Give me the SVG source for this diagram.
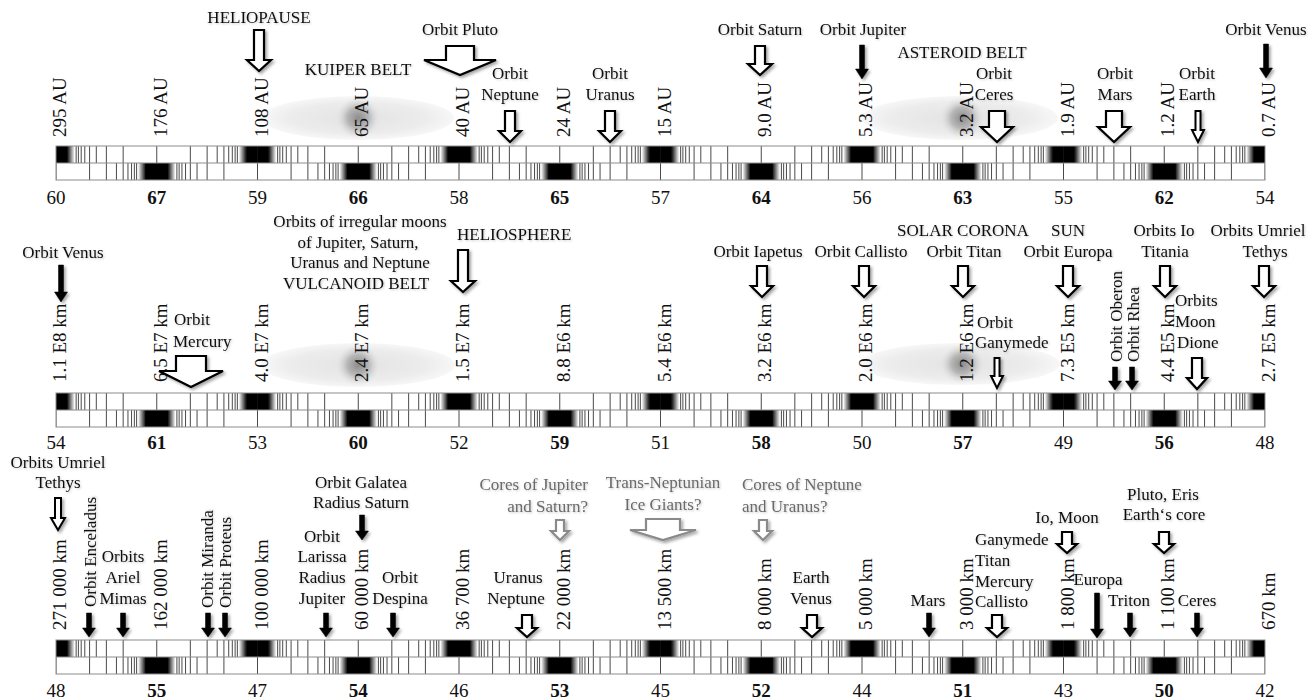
<svg xmlns="http://www.w3.org/2000/svg" xmlns:xlink="http://www.w3.org/1999/xlink" width="1309" height="700" viewBox="0 0 1309 700">
<style>
  text { font-family: "Liberation Serif", "Times New Roman", serif; fill: #111; }
  .num { font-size: 19px; text-anchor: middle; }
  .b { font-weight: bold; }
  .rot { font-size: 19px; }
  .lab { font-size: 17px; text-anchor: middle; filter: url(#tsh); }
  .st { text-anchor: start; }
  .en { text-anchor: end; }
  .gray { fill: #6a6a6a; }
  .ar { fill: #fff; stroke: #000; stroke-width: 2.2; stroke-linejoin: miter; filter: url(#sh); }
  .ar2 { fill: #fff; stroke: #000; stroke-width: 2; filter: url(#sh); }
  .arb { fill: #000; stroke: #000; stroke-width: 0.5; filter: url(#sh); }
  .arg { fill: #fff; stroke: #8a8a8a; stroke-width: 2.2; filter: url(#sh); }
  .tk { stroke: #4a4a4a; stroke-width: 1; fill: none; }
  .frame { fill: none; stroke: #8c8c8c; stroke-width: 1; }
</style>
<defs>
  <filter id="sh" x="-50%" y="-50%" width="200%" height="200%">
    <feDropShadow dx="2" dy="2" stdDeviation="1.6" flood-color="#000" flood-opacity="0.35"/>
  </filter>
  <filter id="tsh" x="-10%" y="-30%" width="120%" height="160%">
    <feDropShadow dx="1" dy="1" stdDeviation="1" flood-color="#000" flood-opacity="0.22"/>
  </filter>
  <linearGradient id="gR" x1="0" y1="0" x2="1" y2="0">
    <stop offset="0" stop-color="#000" stop-opacity="0"/>
    <stop offset="1" stop-color="#000" stop-opacity="1"/>
  </linearGradient>
  <linearGradient id="gL" x1="0" y1="0" x2="1" y2="0">
    <stop offset="0" stop-color="#000" stop-opacity="1"/>
    <stop offset="1" stop-color="#000" stop-opacity="0"/>
  </linearGradient>
  <radialGradient id="belt" cx="0.5" cy="0.5" r="0.5">
    <stop offset="0" stop-color="#e3e3e3"/>
    <stop offset="0.7" stop-color="#ececec"/>
    <stop offset="1" stop-color="#f7f7f7"/>
  </radialGradient>
  <radialGradient id="core" cx="0.5" cy="0.5" r="0.5">
    <stop offset="0" stop-color="#8c8c8c"/>
    <stop offset="0.5" stop-color="#b8b8b8"/>
    <stop offset="1" stop-color="#e3e3e3" stop-opacity="0"/>
  </radialGradient>
  <clipPath id="clipS" clipPathUnits="userSpaceOnUse">
    <rect x="56" y="-5" width="1209" height="50"/>
  </clipPath>
  <g id="cell">
    <path class="tk" d="M0 0V17 M33.58 0V17 M-33.58 0V17 M50.38 0V17 M-50.38 0V17 M60.45 0V17 M-60.45 0V17 M67.17 0V17 M-67.17 0V17 M71.96 0V17 M-71.96 0V17 M75.56 0V17 M-75.56 0V17 M78.36 0V17 M-78.36 0V17 M80.6 0V17 M-80.6 0V17"/>
    <rect x="82" y="0" width="8" height="17" fill="url(#gR)"/>
    <rect x="-90" y="0" width="8" height="17" fill="url(#gL)"/>
    <rect x="89.5" y="0" width="11.5" height="17" fill="#000"/>
    <rect x="-101" y="0" width="11.5" height="17" fill="#000"/>
  </g>
  <g id="strip">
    <g clip-path="url(#clipS)">
      <use xlink:href="#cell" x="156.75"/>
      <use xlink:href="#cell" x="358.25"/>
      <use xlink:href="#cell" x="559.75"/>
      <use xlink:href="#cell" x="761.25"/>
      <use xlink:href="#cell" x="962.75"/>
      <use xlink:href="#cell" x="1164.25"/>
      <use xlink:href="#cell" x="56" y="17"/>
      <use xlink:href="#cell" x="257.5" y="17"/>
      <use xlink:href="#cell" x="459" y="17"/>
      <use xlink:href="#cell" x="660.5" y="17"/>
      <use xlink:href="#cell" x="862" y="17"/>
      <use xlink:href="#cell" x="1063.5" y="17"/>
      <use xlink:href="#cell" x="1265" y="17"/>
    </g>
    <rect class="frame" x="56" y="0" width="1209" height="34"/>
    <line class="frame" x1="56" y1="17" x2="1265" y2="17"/>
  </g>
</defs>

<!-- belts -->
<g id="belts">
  <ellipse cx="358" cy="118" rx="96" ry="22" fill="url(#belt)"/>
  <ellipse cx="358" cy="118" rx="22" ry="21" fill="url(#core)"/>
  <ellipse cx="960" cy="118" rx="98" ry="22" fill="url(#belt)"/>
  <ellipse cx="962" cy="118" rx="22" ry="21" fill="url(#core)"/>
  <ellipse cx="358" cy="365" rx="97" ry="22" fill="url(#belt)"/>
  <ellipse cx="358" cy="365" rx="22" ry="21" fill="url(#core)"/>
  <ellipse cx="960" cy="364" rx="100" ry="21" fill="url(#belt)"/>
  <ellipse cx="962" cy="364" rx="22" ry="20" fill="url(#core)"/>
</g>

<!-- scale strips -->
<g id="strip1"><use xlink:href="#strip" y="146"/></g>
<g id="strip2"><use xlink:href="#strip" y="393"/></g>
<g id="strip3"><use xlink:href="#strip" y="640"/></g>

<!-- scale numbers -->
<g id="nums1">
  <text class="num" x="56" y="204">60</text><text class="num b" x="156.75" y="204">67</text><text class="num" x="257.5" y="204">59</text><text class="num b" x="358.25" y="204">66</text><text class="num" x="459" y="204">58</text><text class="num b" x="559.75" y="204">65</text><text class="num" x="660.5" y="204">57</text><text class="num b" x="761.25" y="204">64</text><text class="num" x="862" y="204">56</text><text class="num b" x="962.75" y="204">63</text><text class="num" x="1063.5" y="204">55</text><text class="num b" x="1164.25" y="204">62</text><text class="num" x="1265" y="204">54</text>
</g>
<g id="nums2">
  <text class="num" x="56" y="449">54</text><text class="num b" x="156.75" y="449">61</text><text class="num" x="257.5" y="449">53</text><text class="num b" x="358.25" y="449">60</text><text class="num" x="459" y="449">52</text><text class="num b" x="559.75" y="449">59</text><text class="num" x="660.5" y="449">51</text><text class="num b" x="761.25" y="449">58</text><text class="num" x="862" y="449">50</text><text class="num b" x="962.75" y="449">57</text><text class="num" x="1063.5" y="449">49</text><text class="num b" x="1164.25" y="449">56</text><text class="num" x="1265" y="449">48</text>
</g>
<g id="nums3">
  <text class="num" x="56" y="697">48</text><text class="num b" x="156.75" y="697">55</text><text class="num" x="257.5" y="697">47</text><text class="num b" x="358.25" y="697">54</text><text class="num" x="459" y="697">46</text><text class="num b" x="559.75" y="697">53</text><text class="num" x="660.5" y="697">45</text><text class="num b" x="761.25" y="697">52</text><text class="num" x="862" y="697">44</text><text class="num b" x="962.75" y="697">51</text><text class="num" x="1063.5" y="697">43</text><text class="num b" x="1164.25" y="697">50</text><text class="num" x="1265" y="697">42</text>
</g>

<!-- rotated distance labels -->
<g id="dist1">
  <text class="rot" transform="translate(66,137) rotate(-90)">295 AU</text>
  <text class="rot" transform="translate(166.75,137) rotate(-90)">176 AU</text>
  <text class="rot" transform="translate(267.5,137) rotate(-90)">108 AU</text>
  <text class="rot" transform="translate(368.25,137) rotate(-90)">65 AU</text>
  <text class="rot" transform="translate(469,137) rotate(-90)">40 AU</text>
  <text class="rot" transform="translate(569.75,137) rotate(-90)">24 AU</text>
  <text class="rot" transform="translate(670.5,137) rotate(-90)">15 AU</text>
  <text class="rot" transform="translate(771.25,137) rotate(-90)">9.0 AU</text>
  <text class="rot" transform="translate(872,137) rotate(-90)">5.3 AU</text>
  <text class="rot" transform="translate(972.75,137) rotate(-90)">3.2 AU</text>
  <text class="rot" transform="translate(1073.5,137) rotate(-90)">1.9 AU</text>
  <text class="rot" transform="translate(1174.25,137) rotate(-90)">1.2 AU</text>
  <text class="rot" transform="translate(1275,137) rotate(-90)">0.7 AU</text>
</g>
<g id="dist2">
  <text class="rot" transform="translate(66,382) rotate(-90)">1.1 E8 km</text>
  <text class="rot" transform="translate(166.75,382) rotate(-90)">6.5 E7 km</text>
  <text class="rot" transform="translate(267.5,382) rotate(-90)">4.0 E7 km</text>
  <text class="rot" transform="translate(368.25,382) rotate(-90)">2.4 E7 km</text>
  <text class="rot" transform="translate(469,382) rotate(-90)">1.5 E7 km</text>
  <text class="rot" transform="translate(569.75,382) rotate(-90)">8.8 E6 km</text>
  <text class="rot" transform="translate(670.5,382) rotate(-90)">5.4 E6 km</text>
  <text class="rot" transform="translate(771.25,382) rotate(-90)">3.2 E6 km</text>
  <text class="rot" transform="translate(872,382) rotate(-90)">2.0 E6 km</text>
  <text class="rot" transform="translate(972.75,382) rotate(-90)">1.2 E6 km</text>
  <text class="rot" transform="translate(1073.5,382) rotate(-90)">7.3 E5 km</text>
  <text class="rot" transform="translate(1174.25,382) rotate(-90)">4.4 E5 km</text>
  <text class="rot" transform="translate(1275,382) rotate(-90)">2.7 E5 km</text>
</g>
<g id="dist3">
  <text class="rot" transform="translate(66,630) rotate(-90)">271 000 km</text>
  <text class="rot" transform="translate(166.75,630) rotate(-90)">162 000 km</text>
  <text class="rot" transform="translate(267.5,630) rotate(-90)">100 000 km</text>
  <text class="rot" transform="translate(368.25,630) rotate(-90)">60 000 km</text>
  <text class="rot" transform="translate(469,630) rotate(-90)">36 700 km</text>
  <text class="rot" transform="translate(569.75,630) rotate(-90)">22 000 km</text>
  <text class="rot" transform="translate(670.5,630) rotate(-90)">13 500 km</text>
  <text class="rot" transform="translate(771.25,630) rotate(-90)">8 000 km</text>
  <text class="rot" transform="translate(872,630) rotate(-90)">5 000 km</text>
  <text class="rot" transform="translate(972.75,630) rotate(-90)">3 000 km</text>
  <text class="rot" transform="translate(1073.5,630) rotate(-90)">1 800 km</text>
  <text class="rot" transform="translate(1174.25,630) rotate(-90)">1 100 km</text>
  <text class="rot" transform="translate(1275,630) rotate(-90)">670 km</text>
</g>

<!-- connectors (arrows) -->
<g id="arrows">
  <path class="ar" d="M254 30 H264 V60 H271 L259 71 L247 60 H254 Z"/>
  <path class="ar" d="M446 46 H474 V60 H496 L460 75 L424 60 H446 Z"/>
  <path class="ar" d="M505 111 H515 V131 H521 L510 142 L499 131 H505 Z"/>
  <path class="ar" d="M605 111 H615 V131 H621 L610 142 L599 131 H605 Z"/>
  <path class="ar" d="M755 46 H765 V64 H772 L760 75 L748 64 H755 Z"/>
  <path class="arb" d="M859.5 45 H864.5 V69 H868.5 L862 79 L855.5 69 H859.5 Z"/>
  <path class="ar" d="M989 111 H1005 V127 H1013 L997 142 L981 127 H989 Z"/>
  <path class="ar" d="M1106 111 H1122 V127 H1130 L1114 142 L1098 127 H1106 Z"/>
  <path class="ar2" d="M1195.5 111 H1200.5 V130 H1204 L1198 142 L1192 130 H1195.5 Z"/>
  <path class="arb" d="M1263.5 44 H1268.5 V68 H1272.5 L1266 78 L1259.5 68 H1263.5 Z"/>

  <path class="arb" d="M58.5 265 H63.5 V292 H67.5 L61 302 L54.5 292 H58.5 Z"/>
  <path class="ar" d="M176 356 H206 V371 H223 L191 387 L159 371 H176 Z"/>
  <path class="ar" d="M458 250 H468 V281 H475 L463 292 L451 281 H458 Z"/>
  <path class="ar" d="M757 266 H767 V286 H773 L762 297 L751 286 H757 Z"/>
  <path class="ar" d="M859 266 H869 V286 H875 L864 297 L853 286 H859 Z"/>
  <path class="ar" d="M958 266 H968 V286 H974 L963 297 L952 286 H958 Z"/>
  <path class="ar" d="M1063 266 H1073 V286 H1079 L1068 297 L1057 286 H1063 Z"/>
  <path class="ar" d="M1160 266 H1170 V286 H1176 L1165 297 L1154 286 H1160 Z"/>
  <path class="ar" d="M1259 266 H1269 V286 H1275 L1264 297 L1253 286 H1259 Z"/>
  <path class="ar2" d="M994.5 358 H999.5 V376 H1003 L997 388 L991 376 H994.5 Z"/>
  <path class="arb" d="M1112.5 367 H1117.5 V381 H1121.5 L1115 390 L1108.5 381 H1112.5 Z"/>
  <path class="arb" d="M1129.5 367 H1134.5 V381 H1138.5 L1132 390 L1125.5 381 H1129.5 Z"/>
  <path class="ar" d="M1192 358 H1202 V378 H1207 L1197 389 L1187 378 H1192 Z"/>

  <path class="ar2" d="M55 498 H61 V518 H65 L58 530 L51 518 H55 Z"/>
  <path class="arb" d="M86.5 613 H91.5 V628 H95.5 L89 637 L82.5 628 H86.5 Z"/>
  <path class="arb" d="M120.5 613 H125.5 V628 H129.5 L123 637 L116.5 628 H120.5 Z"/>
  <path class="arb" d="M205.5 613 H210.5 V628 H214.5 L208 637 L201.5 628 H205.5 Z"/>
  <path class="arb" d="M222.5 613 H227.5 V628 H231.5 L225 637 L218.5 628 H222.5 Z"/>
  <path class="arb" d="M323.5 613 H328.5 V628 H332.5 L326 637 L319.5 628 H323.5 Z"/>
  <path class="arb" d="M359.5 515 H364.5 V531 H368.5 L362 540 L355.5 531 H359.5 Z"/>
  <path class="arb" d="M390.5 613 H395.5 V628 H399.5 L393 637 L386.5 628 H390.5 Z"/>
  <path class="arg" d="M556 520 H564 V531 H569 L560 540 L551 531 H556 Z"/>
  <path class="ar" d="M522 615 H532 V628 H537 L527 637 L517 628 H522 Z"/>
  <path class="arg" d="M646 519 H680 V530 H696 L663 540 L630 530 H646 Z"/>
  <path class="arg" d="M759 520 H767 V531 H772 L763 540 L754 531 H759 Z"/>
  <path class="ar" d="M807 615 H817 V628 H822 L812 637 L802 628 H807 Z"/>
  <path class="arb" d="M926.5 613 H931.5 V628 H935.5 L929 637 L922.5 628 H926.5 Z"/>
  <path class="ar" d="M992 615 H1002 V628 H1007 L997 637 L987 628 H992 Z"/>
  <path class="ar" d="M1062 532 H1072 V544 H1077 L1067 553 L1057 544 H1062 Z"/>
  <path class="arb" d="M1094.5 593 H1099.5 V629 H1103.5 L1097 638 L1090.5 629 H1094.5 Z"/>
  <path class="arb" d="M1127.5 613 H1132.5 V628 H1136.5 L1130 637 L1123.5 628 H1127.5 Z"/>
  <path class="ar" d="M1159 532 H1169 V544 H1174 L1164 553 L1154 544 H1159 Z"/>
  <path class="arb" d="M1194.5 613 H1199.5 V628 H1203.5 L1197 637 L1190.5 628 H1194.5 Z"/>
</g>

<!-- annotation labels (nodes) -->
<g id="n-heliopause"><text class="lab" x="259" y="23">HELIOPAUSE</text></g>
<g id="n-kuiper"><text class="lab" x="358" y="75">KUIPER BELT</text></g>
<g id="n-pluto"><text class="lab" x="460" y="35">Orbit Pluto</text></g>
<g id="n-neptune"><text class="lab" x="510" y="79">Orbit</text><text class="lab" x="510" y="100">Neptune</text></g>
<g id="n-uranus"><text class="lab" x="610" y="79">Orbit</text><text class="lab" x="610" y="100">Uranus</text></g>
<g id="n-saturn"><text class="lab" x="760" y="35">Orbit Saturn</text></g>
<g id="n-jupiter"><text class="lab" x="863" y="35">Orbit Jupiter</text></g>
<g id="n-asteroid"><text class="lab" x="962" y="58">ASTEROID BELT</text></g>
<g id="n-ceres"><text class="lab" x="994" y="79">Orbit</text><text class="lab" x="994" y="100">Ceres</text></g>
<g id="n-mars"><text class="lab" x="1115" y="79">Orbit</text><text class="lab" x="1115" y="100">Mars</text></g>
<g id="n-earth"><text class="lab" x="1197" y="79">Orbit</text><text class="lab" x="1197" y="100">Earth</text></g>
<g id="n-venus1"><text class="lab" x="1266" y="35">Orbit Venus</text></g>

<g id="n-venus2"><text class="lab" x="63" y="258">Orbit Venus</text></g>
<g id="n-mercury"><text class="lab st" x="174" y="325">Orbit</text><text class="lab st" x="173" y="347">Mercury</text></g>
<g id="n-irregular">
  <text class="lab" x="360" y="227">Orbits of irregular  moons</text>
  <text class="lab" x="358" y="248">of Jupiter, Saturn,</text>
  <text class="lab" x="360" y="268">Uranus and Neptune</text>
  <text class="lab" x="356" y="289">VULCANOID BELT</text>
</g>
<g id="n-heliosphere"><text class="lab st" x="457" y="240">HELIOSPHERE</text></g>
<g id="n-iapetus"><text class="lab" x="758" y="257">Orbit Iapetus</text></g>
<g id="n-callisto"><text class="lab" x="861" y="257">Orbit Callisto</text></g>
<g id="n-corona"><text class="lab" x="963" y="236">SOLAR CORONA</text></g>
<g id="n-sun"><text class="lab" x="1068" y="236">SUN</text></g>
<g id="n-titan"><text class="lab" x="964" y="257">Orbit Titan</text></g>
<g id="n-europa"><text class="lab" x="1068" y="257">Orbit Europa</text></g>
<g id="n-io"><text class="lab" x="1164" y="236">Orbits Io</text><text class="lab" x="1165" y="257">Titania</text></g>
<g id="n-umriel1"><text class="lab" x="1258" y="236">Orbits Umriel</text><text class="lab" x="1265" y="257">Tethys</text></g>
<g id="n-ganymede"><text class="lab st" x="977" y="328">Orbit</text><text class="lab st" x="975" y="348">Ganymede</text></g>
<g id="n-oberon"><text class="lab st" transform="translate(1122,362) rotate(-90)">Orbit Oberon</text></g>
<g id="n-rhea"><text class="lab st" transform="translate(1139,362) rotate(-90)">Orbit Rhea</text></g>
<g id="n-dione"><text class="lab st" x="1175" y="306">Orbits</text><text class="lab st" x="1175" y="327">Moon</text><text class="lab st" x="1177" y="348">Dione</text></g>

<g id="n-umriel2"><text class="lab" x="58" y="468">Orbits Umriel</text><text class="lab" x="58" y="488">Tethys</text></g>
<g id="n-enceladus"><text class="lab st" transform="translate(96,607) rotate(-90)">Orbit Enceladus</text></g>
<g id="n-ariel"><text class="lab" x="123" y="562">Orbits</text><text class="lab" x="123" y="583">Ariel</text><text class="lab" x="123" y="604">Mimas</text></g>
<g id="n-miranda"><text class="lab st" transform="translate(213,608) rotate(-90)">Orbit Miranda</text></g>
<g id="n-proteus"><text class="lab st" transform="translate(231,608) rotate(-90)">Orbit Proteus</text></g>
<g id="n-larissa"><text class="lab" x="322" y="542">Orbit</text><text class="lab" x="322" y="562">Larissa</text><text class="lab" x="322" y="583">Radius</text><text class="lab" x="322" y="604">Jupiter</text></g>
<g id="n-galatea"><text class="lab" x="361" y="488">Orbit Galatea</text><text class="lab" x="361" y="508">Radius Saturn</text></g>
<g id="n-despina"><text class="lab" x="400" y="583">Orbit</text><text class="lab" x="400" y="604">Despina</text></g>
<g id="n-coresJS"><text class="lab en gray" x="588" y="490">Cores of Jupiter</text><text class="lab en gray" x="588" y="512">and Saturn?</text></g>
<g id="n-uranep"><text class="lab" x="518" y="583">Uranus</text><text class="lab" x="516" y="604">Neptune</text></g>
<g id="n-transnep"><text class="lab gray" x="663" y="488">Trans-Neptunian</text><text class="lab gray" x="663" y="510">Ice Giants?</text></g>
<g id="n-coresNU"><text class="lab st gray" x="742" y="490">Cores of Neptune</text><text class="lab st gray" x="742" y="512">and Uranus?</text></g>
<g id="n-earthvenus"><text class="lab" x="811" y="583">Earth</text><text class="lab" x="811" y="604">Venus</text></g>
<g id="n-mars2"><text class="lab" x="928" y="606">Mars</text></g>
<g id="n-ganytitan"><text class="lab st" x="975" y="545">Ganymede</text><text class="lab st" x="975" y="566">Titan</text><text class="lab st" x="975" y="587">Mercury</text><text class="lab st" x="975" y="607">Callisto</text></g>
<g id="n-iomoon"><text class="lab" x="1067" y="523">Io, Moon</text></g>
<g id="n-europa2"><text class="lab" x="1098" y="585">Europa</text></g>
<g id="n-triton"><text class="lab" x="1129" y="606">Triton</text></g>
<g id="n-pluto2"><text class="lab" x="1163" y="500">Pluto, Eris</text><text class="lab" x="1164" y="520">Earth‘s core</text></g>
<g id="n-ceres2"><text class="lab" x="1197" y="606">Ceres</text></g>
</svg>
